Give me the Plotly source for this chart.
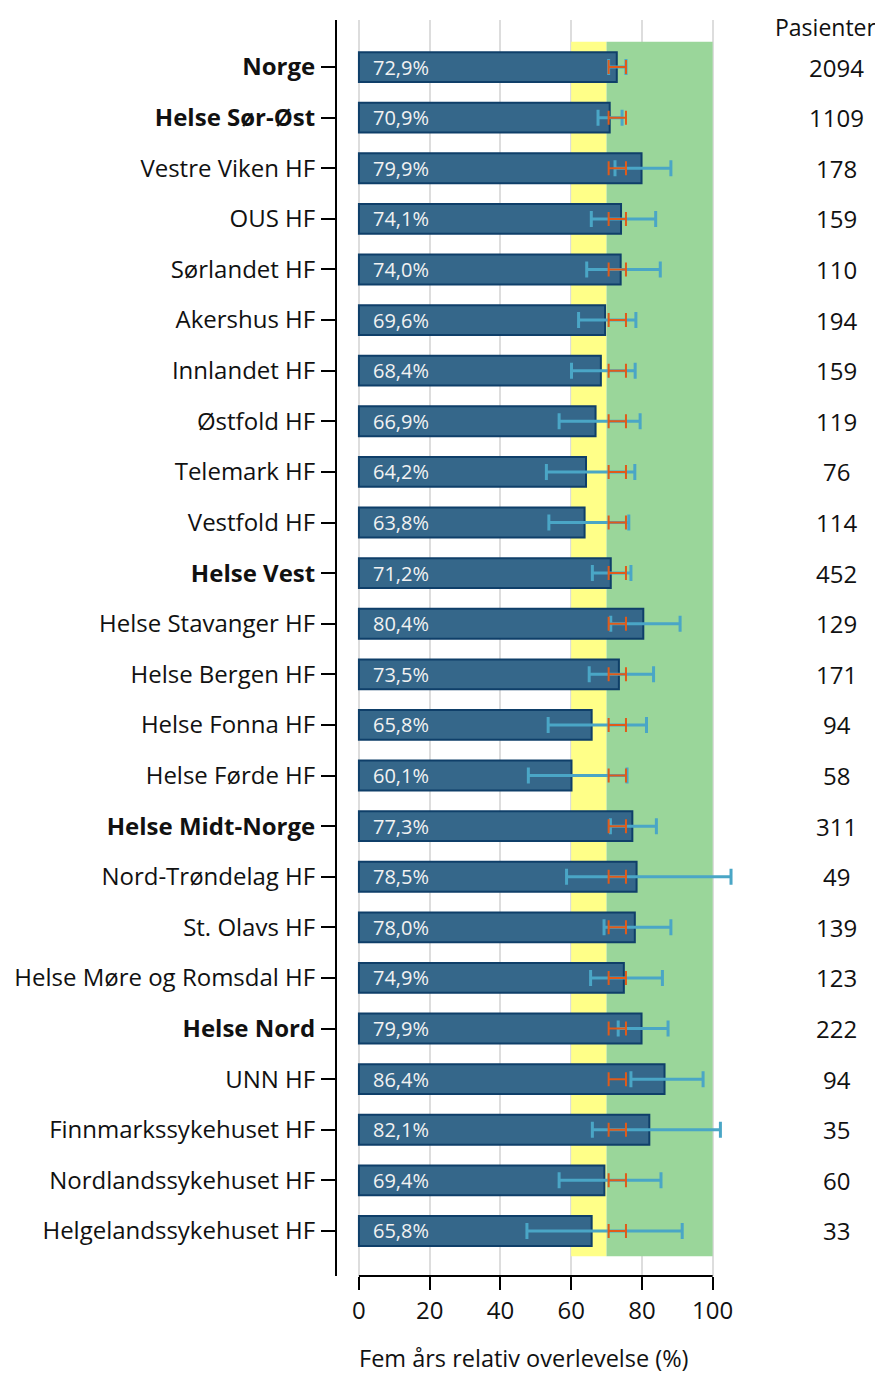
import plotly.graph_objects as go

units = ["Norge", "Helse Sør-Øst", "Vestre Viken HF", "OUS HF", "Sørlandet HF",
         "Akershus HF", "Innlandet HF", "Østfold HF", "Telemark HF", "Vestfold HF",
         "Helse Vest", "Helse Stavanger HF", "Helse Bergen HF", "Helse Fonna HF",
         "Helse Førde HF", "Helse Midt-Norge", "Nord-Trøndelag HF", "St. Olavs HF",
         "Helse Møre og Romsdal HF", "Helse Nord", "UNN HF", "Finnmarkssykehuset HF",
         "Nordlandssykehuset HF", "Helgelandssykehuset HF"]
bold_units = ["Norge", "Helse Sør-Øst", "Helse Vest", "Helse Midt-Norge", "Helse Nord"]
survival = [72.9, 70.9, 79.9, 74.1, 74.0, 69.6, 68.4, 66.9, 64.2, 63.8,
            71.2, 80.4, 73.5, 65.8, 60.1, 77.3, 78.5, 78.0, 74.9, 79.9,
            86.4, 82.1, 69.4, 65.8]
ci_low = [70.6, 67.6, 72.4, 65.7, 64.4, 62.1, 60.1, 56.6, 53.0, 53.7,
          66.0, 71.2, 65.1, 53.5, 47.9, 71.1, 58.7, 69.3, 65.5, 73.3,
          76.9, 66.0, 56.6, 47.5]
ci_high = [75.5, 74.4, 88.2, 83.9, 85.2, 78.3, 78.1, 79.5, 78.0, 76.3,
           76.9, 90.8, 83.3, 81.3, 75.8, 84.1, 105.2, 88.2, 85.8, 87.4,
           97.3, 102.2, 85.4, 91.4]
patients = [2094, 1109, 178, 159, 110, 194, 159, 119, 76, 114,
            452, 129, 171, 94, 58, 311, 49, 139, 123, 222,
            94, 35, 60, 33]
norway_low = 70.6
norway_high = 75.5
x_ticks = [0, 20, 40, 60, 80, 100]
band_yellow = (60, 70)
band_green = (70, 100)

FONT = "'Open Sans', Lato, sans-serif"
n = len(units)
tick_text = [f"<b>{u}</b>" if u in bold_units else u for u in units]
fmt = [f"{v:.1f}".replace(".", ",") + "%" for v in survival]
norway_mid = (norway_low + norway_high) / 2

fig = go.Figure()
fig.add_trace(go.Bar(
    y=units, x=survival, orientation="h", width=0.59,
    marker=dict(color="#35678A", line=dict(color="#0F3F69", width=2)),
    hoverinfo="skip", showlegend=False))
fig.add_trace(go.Scatter(
    y=units, x=survival, mode="markers", marker=dict(size=1, opacity=0),
    error_x=dict(type="data", symmetric=False,
                 array=[h - v for h, v in zip(ci_high, survival)],
                 arrayminus=[v - l for l, v in zip(ci_low, survival)],
                 color="#4AA6C6", thickness=3, width=8),
    hoverinfo="skip", showlegend=False, cliponaxis=False))
fig.add_trace(go.Scatter(
    y=units, x=[norway_mid] * n, mode="markers", marker=dict(size=1, opacity=0),
    error_x=dict(type="data", symmetric=True, array=[norway_high - norway_mid] * n,
                 color="#E05B1A", thickness=2, width=7),
    hoverinfo="skip", showlegend=False, cliponaxis=False))

shapes = [
    dict(type="rect", xref="x", yref="y", x0=band_yellow[0], x1=band_yellow[1],
         y0=-0.5, y1=n - 0.5, fillcolor="#FFFF88", line_width=0, layer="between"),
    dict(type="rect", xref="x", yref="y", x0=band_green[0], x1=band_green[1],
         y0=-0.5, y1=n - 0.5, fillcolor="#9AD69A", line_width=0, layer="between"),
    dict(type="line", xref="x", yref="paper", x0=x_ticks[0], x1=x_ticks[-1],
         y0=0, y1=0, line=dict(color="black", width=2)),
]

annotations = []
for u, t in zip(units, fmt):
    annotations.append(dict(x=0, y=u, xref="x", yref="y", text=t, showarrow=False,
                            xanchor="left", xshift=12,
                            font=dict(family=FONT, size=20, color="#F2F2F2")))
for u, p in zip(units, patients):
    annotations.append(dict(x=1.2165, y=u, xref="paper", yref="y", text=str(p),
                            showarrow=False, xanchor="center",
                            font=dict(family=FONT, size=24, color="#111")))
annotations.append(dict(x=1.189, y=1.0, xref="paper", yref="paper", yshift=-7,
                        text="Pasienter", showarrow=False, xanchor="center",
                        yanchor="middle", font=dict(family=FONT, size=23, color="#111")))
annotations.append(dict(x=0.456, y=0, xref="paper", yref="paper", yshift=-82,
                        text="Fem års relativ overlevelse (%)", showarrow=False,
                        xanchor="center", yanchor="middle",
                        font=dict(family=FONT, size=23.5, color="#111")))

fig.update_layout(
    width=875, height=1367,
    margin=dict(l=329, r=135, t=12, b=99, autoexpand=False),
    paper_bgcolor="white", plot_bgcolor="white",
    font=dict(family=FONT, size=24, color="#111"),
    shapes=shapes, annotations=annotations,
    xaxis=dict(range=[-6.2, 110], tickvals=x_ticks, ticks="outside", ticklen=13,
               tickwidth=2, tickcolor="black", showline=False, zeroline=False,
               showgrid=True, gridcolor="#DDDDDD", gridwidth=2, automargin=False,
               tickfont=dict(family=FONT, size=24, color="#111")),
    yaxis=dict(type="category", range=[n - 1 + 0.89, -0.93], tickvals=units,
               ticktext=tick_text, ticks="outside", ticklen=14, tickwidth=2,
               tickcolor="black", showline=True, linecolor="black", linewidth=2,
               showgrid=False, zeroline=False, ticklabelstandoff=1, automargin=False,
               tickfont=dict(family=FONT, size=24, color="#111")),
)
fig.write_html("out.html")
